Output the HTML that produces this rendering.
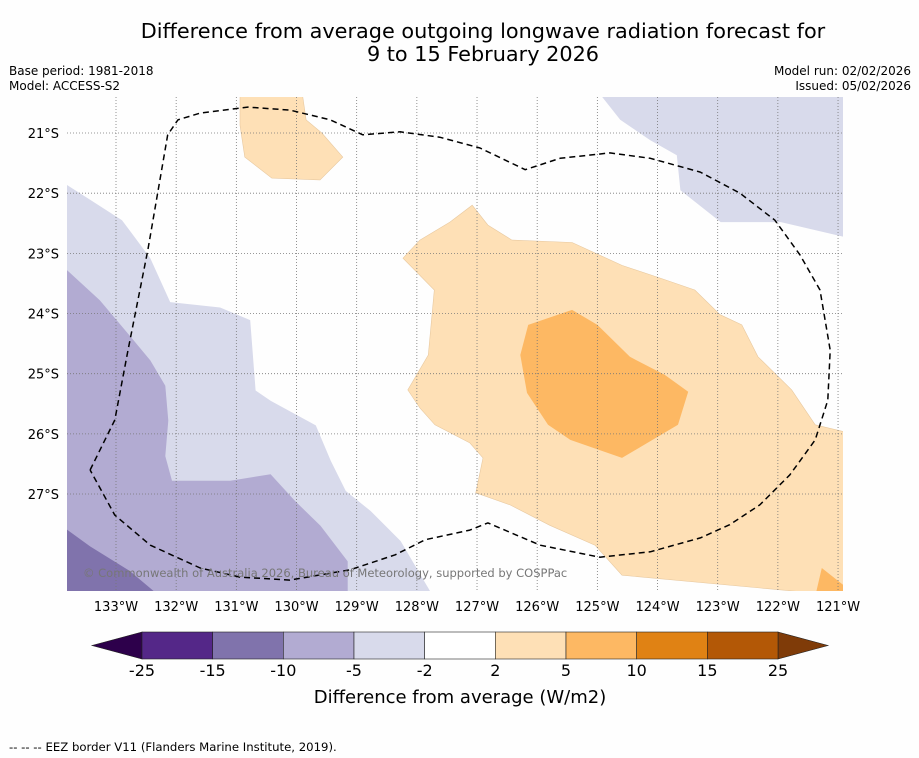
<!DOCTYPE html>
<html><head><meta charset="utf-8"><style>
body{margin:0;background:#fff;font-family:"Liberation Sans","DejaVu Sans",sans-serif;}
#wrap{position:relative;width:919px;height:758px;overflow:hidden;background:#fefefe}
</style></head><body>
<div id="wrap">
<svg id="svg" width="919" height="758" xmlns="http://www.w3.org/2000/svg" style="font-family:'DejaVu Sans','Liberation Sans',sans-serif">
<text x="483" y="38" text-anchor="middle" font-size="20.8">Difference from average outgoing longwave radiation forecast for</text>
<text x="483" y="61" text-anchor="middle" font-size="20.8">9 to 15 February 2026</text>
<text x="9" y="75" font-size="12">Base period: 1981-2018</text>
<text x="9" y="90" font-size="12">Model: ACCESS-S2</text>
<text x="911" y="75" font-size="12" text-anchor="end">Model run: 02/02/2026</text>
<text x="911" y="90" font-size="12" text-anchor="end">Issued: 05/02/2026</text>
<defs><clipPath id="mapclip"><rect x="67" y="97" width="776" height="494"/></clipPath></defs>
<g id="map" clip-path="url(#mapclip)"></g>
<g id="grid"></g>
<g id="eez" clip-path="url(#mapclip)"></g>
<g id="labels"></g>
<text x="83" y="577" font-size="11.5" fill="#777">© Commonwealth of Australia 2026, Bureau of Meteorology, supported by COSPPac</text>
<g id="cbar"></g>
<text x="460" y="703" font-size="18" text-anchor="middle">Difference from average (W/m2)</text>
<text x="9" y="751" font-size="11.7">--  --  -- EEZ border V11 (Flanders Marine Institute, 2019).</text>
</svg>
</div>
<script>
const lonTicks=[-133,-132,-131,-130,-129,-128,-127,-126,-125,-124,-123,-122,-121];
const latTicks=[-21,-22,-23,-24,-25,-26,-27];
const cbLevels=[-25,-15,-10,-5,-2,2,5,10,15,25];
const cbColors=['#542788','#8073ac','#b2abd2','#d8daeb','#ffffff','#fee0b6','#fdb863','#e08214','#b35806'];
const cbLow='#2d004b', cbHigh='#7f3b08';
const contourBands=['#d8daeb','#b2abd2','#8073ac','#d8daeb','#fee0b6','#fdb863','#fee0b6','#fdb863'];
const contourNames=['light-purple-west','mid-purple-west','dark-purple-sw','light-purple-ne','light-orange-main','orange-core','light-orange-north','orange-se-corner'];
const contourPolys=[
[[-133.9,-21.81],[-133.43,-22.11],[-132.9,-22.45],[-132.43,-23.08],[-132.1,-23.81],[-131.27,-23.9],[-130.77,-24.11],[-130.68,-25.28],[-130.43,-25.45],[-129.68,-25.86],[-129.43,-26.45],[-129.18,-26.95],[-128.77,-27.28],[-128.27,-27.78],[-127.73,-28.7],[-133.9,-28.7]],
[[-133.9,-23.2],[-133.27,-23.78],[-132.77,-24.37],[-132.43,-24.78],[-132.18,-25.2],[-132.13,-25.78],[-132.18,-26.37],[-132.07,-26.78],[-131.1,-26.78],[-130.43,-26.67],[-130.02,-27.12],[-129.6,-27.53],[-129.15,-28.12],[-129.15,-28.7],[-133.9,-28.7]],
[[-133.9,-27.53],[-133.43,-27.87],[-132.77,-28.28],[-132.27,-28.7],[-133.9,-28.7]],
[[-125.0,-20.3],[-124.62,-20.78],[-124.12,-21.12],[-123.68,-21.37],[-123.62,-21.95],[-122.95,-22.48],[-121.95,-22.48],[-120.8,-22.75],[-120.8,-20.3]],
[[-128.23,-23.08],[-127.95,-22.78],[-127.45,-22.48],[-127.08,-22.2],[-126.82,-22.53],[-126.42,-22.78],[-125.42,-22.82],[-124.59,-23.2],[-123.96,-23.41],[-123.38,-23.61],[-122.96,-24.02],[-122.6,-24.19],[-122.33,-24.72],[-121.77,-25.27],[-121.38,-25.85],[-120.8,-25.99],[-120.8,-28.7],[-124.59,-28.35],[-125.04,-27.85],[-125.79,-27.52],[-126.45,-27.18],[-127.02,-26.98],[-126.9,-26.4],[-127.12,-26.15],[-127.7,-25.85],[-127.95,-25.57],[-128.15,-25.27],[-127.81,-24.69],[-127.71,-23.61]],
[[-126.15,-24.19],[-125.42,-23.94],[-125.0,-24.19],[-124.46,-24.72],[-123.88,-25.02],[-123.49,-25.3],[-123.66,-25.85],[-124.59,-26.4],[-125.45,-26.1],[-125.82,-25.85],[-126.17,-25.32],[-126.28,-24.69]],
[[-130.94,-20.3],[-129.91,-20.3],[-129.84,-20.78],[-129.58,-21.0],[-129.23,-21.4],[-129.61,-21.78],[-130.41,-21.75],[-130.86,-21.4],[-130.94,-20.87]],
[[-121.27,-28.23],[-120.8,-28.6],[-120.8,-28.7],[-121.38,-28.7]]
];
const eezLine=[[-133.43,-26.6],[-133.02,-25.77],[-132.8,-24.61],[-132.47,-22.94],[-132.14,-21.03],[-131.97,-20.78],[-131.6,-20.67],[-130.81,-20.57],[-130.11,-20.62],[-129.44,-20.78],[-128.9,-21.03],[-128.28,-20.98],[-127.62,-21.07],[-126.95,-21.25],[-126.2,-21.61],[-125.62,-21.42],[-124.79,-21.33],[-124.12,-21.42],[-123.29,-21.65],[-122.63,-22.0],[-122.05,-22.45],[-121.63,-23.03],[-121.3,-23.61],[-121.13,-24.61],[-121.17,-25.44],[-121.38,-26.1],[-121.8,-26.68],[-122.3,-27.18],[-122.8,-27.51],[-123.29,-27.73],[-124.12,-27.96],[-124.96,-28.05],[-125.95,-27.85],[-126.82,-27.48],[-127.12,-27.6],[-127.86,-27.76],[-128.36,-28.01],[-129.11,-28.26],[-130.11,-28.43],[-130.94,-28.38],[-131.6,-28.23],[-132.43,-27.85],[-133.02,-27.35],[-133.43,-26.6]];

const S=60.17;
function xs(lon){return 116+(lon+133)*S;}
function ys(lat){return 133+(-21-lat)*S;}
const NS='http://www.w3.org/2000/svg';
function mk(tag,attrs,parent){const e=document.createElementNS(NS,tag);for(const k in attrs)e.setAttribute(k,attrs[k]);parent.appendChild(e);return e;}

const map=document.getElementById('map');
contourPolys.forEach((poly,i)=>{
  const p=mk('polygon',{points:poly.map(q=>xs(q[0]).toFixed(1)+','+ys(q[1]).toFixed(1)).join(' '),fill:contourBands[i],stroke:i===4||i===6?'#e8c9a0':'none','stroke-width':0.6},map);
  
  
});

const grid=document.getElementById('grid');
const labels=document.getElementById('labels');
lonTicks.forEach(l=>{
  const ln=mk('line',{x1:xs(l),x2:xs(l),y1:97,y2:591,stroke:'#777','stroke-width':0.8,'stroke-dasharray':'1,2'},grid);
  
  
  const t=mk('text',{x:xs(l),y:611,'font-size':13,'text-anchor':'middle'},labels);
  t.textContent=Math.abs(l)+'°W';
  
  
});
latTicks.forEach(l=>{
  const ln=mk('line',{x1:67,x2:843,y1:ys(l),y2:ys(l),stroke:'#777','stroke-width':0.8,'stroke-dasharray':'1,2'},grid);
  
  
  const t=mk('text',{x:59,y:ys(l)+5,'font-size':13,'text-anchor':'end'},labels);
  t.textContent=Math.abs(l)+'°S';
  
  
});

const eez=document.getElementById('eez');
const ep=mk('polyline',{points:eezLine.map(q=>xs(q[0]).toFixed(1)+','+ys(q[1]).toFixed(1)).join(' '),fill:'none',stroke:'#000','stroke-width':1.5,'stroke-dasharray':'6,4','stroke-linejoin':'round'},eez);



const cb=document.getElementById('cbar');
const cbX0=142,cbX1=778,cbY=632,cbH=27;
const segW=(cbX1-cbX0)/cbColors.length;
const lt=mk('polygon',{points:`${cbX0},${cbY} 92,${cbY+cbH/2} ${cbX0},${cbY+cbH}`,fill:cbLow,stroke:'#222','stroke-width':0.6},cb);


const rt=mk('polygon',{points:`${cbX1},${cbY} 828,${cbY+cbH/2} ${cbX1},${cbY+cbH}`,fill:cbHigh,stroke:'#222','stroke-width':0.6},cb);


cbColors.forEach((c,i)=>{
  const r=mk('rect',{x:cbX0+i*segW,y:cbY,width:segW,height:cbH,fill:c,stroke:'#222','stroke-width':0.6},cb);
  
  
});
cbLevels.forEach((v,i)=>{
  const t=mk('text',{x:cbX0+i*segW,y:676,'font-size':16,'text-anchor':'middle'},cb);
  t.textContent=v;
  
  
});
</script>
</body></html>
